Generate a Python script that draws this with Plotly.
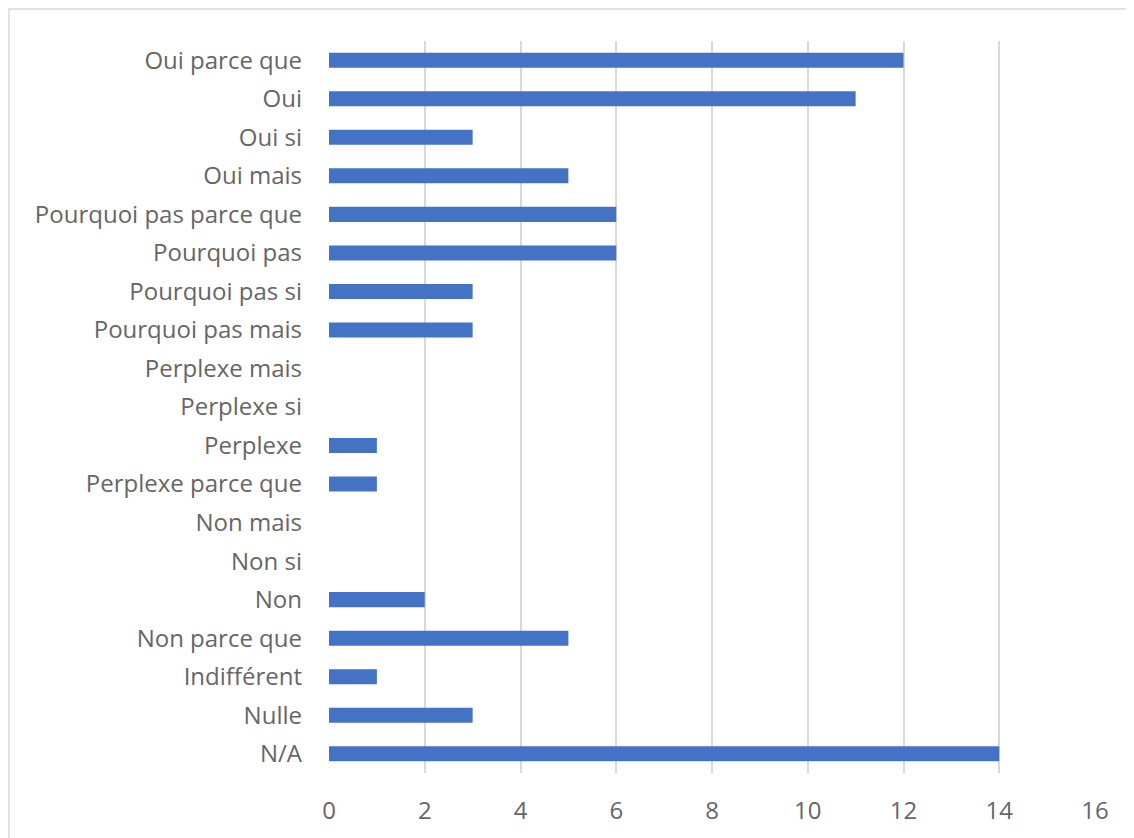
import plotly.graph_objects as go

categories = ["Oui parce que", "Oui", "Oui si", "Oui mais", "Pourquoi pas parce que",
              "Pourquoi pas", "Pourquoi pas si", "Pourquoi pas mais", "Perplexe mais",
              "Perplexe si", "Perplexe", "Perplexe parce que", "Non mais", "Non si",
              "Non", "Non parce que", "Indifférent", "Nulle", "N/A"]
values = [12, 11, 3, 5, 6, 6, 3, 3, 0, 0, 1, 1, 0, 0, 2, 5, 1, 3, 14]
x_ticks = [0, 2, 4, 6, 8, 10, 12, 14, 16]

fig = go.Figure(go.Bar(
    y=categories, x=values, orientation="h",
    marker=dict(color="#4472C4", line=dict(width=0)),
    width=0.39,
))

# page has an 8px body margin; figure sized/margined to compensate
OFF = 8
W, H = 1134 - OFF, 838 - OFF
l, r, t, b = 329 - OFF, 39, 41 - OFF, 65
pw, ph = W - l - r, H - t - b

fig.update_layout(
    width=W, height=H,
    margin=dict(l=l, r=r, t=t, b=b),
    paper_bgcolor="white", plot_bgcolor="white",
    font=dict(family="Open Sans", size=24, color="#666666"),
    showlegend=False,
    xaxis=dict(range=[0, 16], tickvals=x_ticks, showgrid=True, gridcolor="#d9d9d9",
               gridwidth=1.5, zeroline=False, showline=False, ticks="",
               ticklabelstandoff=21, tickfont=dict(size=24)),
    yaxis=dict(categoryorder="array", categoryarray=categories[::-1],
               showgrid=False, zeroline=False, showline=False, ticks="",
               ticklabelstandoff=26, tickfont=dict(size=24)),
    shapes=[dict(type="rect", xref="paper", yref="paper",
                 x0=(1 - l) / pw, x1=(W + 30 - l) / pw,
                 y0=(-(b + 30)) / ph, y1=(H - b - 1) / ph,
                 line=dict(color="#d9d9d9", width=1.5), fillcolor="rgba(0,0,0,0)",
                 layer="below")],
)

fig.write_html("out.html")
